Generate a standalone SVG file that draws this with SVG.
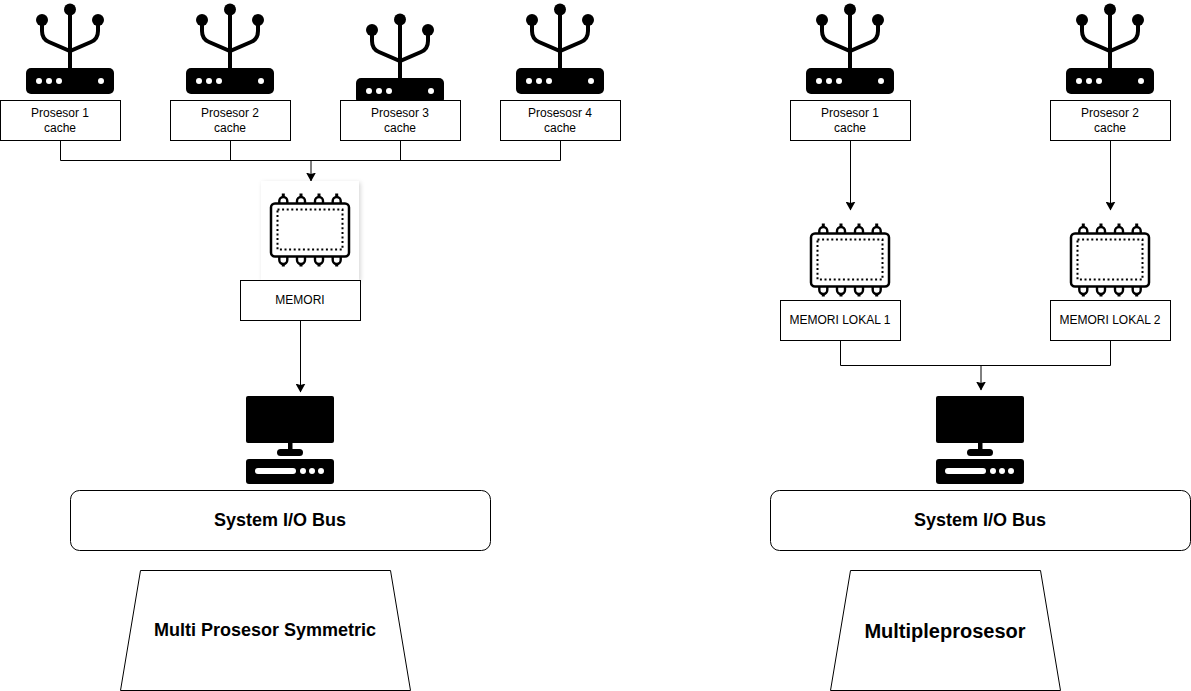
<svg xmlns="http://www.w3.org/2000/svg" xmlns:xlink="http://www.w3.org/1999/xlink" width="1191" height="691" viewBox="0 0 1191 691">
<style>
text{font-family:"Liberation Sans",Arial,sans-serif;text-anchor:middle;fill:#000}
.lbl{font-size:12px}
.box{fill:#fff;stroke:#000;stroke-width:1}
.wire{fill:none;stroke:#000;stroke-width:1}
.ant{fill:none;stroke:#000;stroke-width:4}
.b{font-weight:bold;font-size:18px}
</style>
<defs>
<marker id="arr" viewBox="0 0 9 10" refX="8.500" refY="5" markerWidth="9" markerHeight="10" markerUnits="userSpaceOnUse" orient="auto"><path d="M0 0L9 5L0 10L1.500 5Z" fill="#000"/></marker>
<filter id="sh" x="-10%" y="-10%" width="120%" height="120%"><feDropShadow dx="1.500" dy="1.500" stdDeviation="2" flood-color="#000" flood-opacity="0.16"/></filter>
<g id="router">
<path class="ant" d="M70 9.500V68M42 20V31Q42 39 49 42L70 51L91 42Q98 39 98 31V20"/>
<circle cx="70" cy="9.500" r="6"/><circle cx="42" cy="20" r="6"/><circle cx="98" cy="20" r="6"/>
<rect x="26" y="68" width="88" height="26" rx="5"/>
<g fill="#fff"><circle cx="39" cy="81" r="3"/><circle cx="49" cy="81" r="3"/><circle cx="59" cy="81" r="3"/><circle cx="101" cy="81" r="3"/></g>
</g>
<g id="chip">
<path d="M283.300 193.500v4M301 193.500v4M319 193.500v4M336.700 193.500v4M283.300 262v4.500M301 262v4.500M319 262v4.500M336.700 262v4.500" stroke="#000" stroke-width="3"/>
<g fill="#fff" stroke="#000" stroke-width="2.400">
<path d="M279.300 204v-3a4 4 0 0 1 8 0v3M297 204v-3a4 4 0 0 1 8 0v3M315 204v-3a4 4 0 0 1 8 0v3M332.700 204v-3a4 4 0 0 1 8 0v3"/>
<path d="M279.300 256v4a4 4 0 0 0 8 0v-4M297 256v4a4 4 0 0 0 8 0v-4M315 256v4a4 4 0 0 0 8 0v-4M332.700 256v4a4 4 0 0 0 8 0v-4"/>
</g>
<rect x="271" y="203.500" width="78" height="53" rx="4" fill="#fff" stroke="#000" stroke-width="2.500"/>
<rect x="277.500" y="209.500" width="65" height="40" fill="none" stroke="#000" stroke-width="2" stroke-dasharray="2 2.600"/>
</g>
<g id="pc">
<rect x="246" y="396" width="88" height="47" rx="2"/>
<rect x="288" y="442" width="4.500" height="9"/>
<rect x="277" y="449" width="26" height="7" rx="3.500"/>
<rect x="246" y="459" width="88" height="25" rx="3"/>
<rect x="255" y="468" width="41" height="6" rx="3" fill="#fff"/>
<g fill="#fff"><circle cx="303" cy="471" r="3"/><circle cx="312" cy="471" r="3"/><circle cx="321" cy="471" r="3"/></g>
</g>
</defs>

<g id="connectors">
<path class="wire" d="M60.500 140V160.500H560.500V140M230.500 140V160.500M400.500 140V160.500"/>
<path class="wire" d="M311 160.500V181" marker-end="url(#arr)"/>
<path class="wire" d="M300.500 320V392" marker-end="url(#arr)"/>
<path class="wire" d="M850.500 140V210" marker-end="url(#arr)"/>
<path class="wire" d="M1110.500 140V210" marker-end="url(#arr)"/>
<path class="wire" d="M840.500 340V365.500H1110.500V340"/>
<path class="wire" d="M981 365.500V390" marker-end="url(#arr)"/>
</g>

<g id="r1"><use href="#router"/><rect class="box" x="0.500" y="100.500" width="120" height="40"/><text class="lbl" x="60" y="117">Prosesor 1</text><text class="lbl" x="60" y="132">cache</text></g>
<g id="r2"><use href="#router" x="160"/><rect class="box" x="170.500" y="100.500" width="120" height="40"/><text class="lbl" x="230" y="117">Prosesor 2</text><text class="lbl" x="230" y="132">cache</text></g>
<g id="r3"><use href="#router" x="330" y="10"/><rect class="box" x="340.500" y="100.500" width="120" height="40"/><text class="lbl" x="400" y="117">Prosesor 3</text><text class="lbl" x="400" y="132">cache</text></g>
<g id="r4"><use href="#router" x="490"/><rect class="box" x="500.500" y="100.500" width="120" height="40"/><text class="lbl" x="560" y="117">Prosesosr 4</text><text class="lbl" x="560" y="132">cache</text></g>

<g id="mem"><rect x="261" y="181" width="98" height="99" fill="#fff" filter="url(#sh)"/><use href="#chip"/><rect class="box" x="240.500" y="280.500" width="120" height="40"/><text class="lbl" x="300" y="304">MEMORI</text></g>
<g id="pc1"><use href="#pc"/></g>
<g id="bus1"><rect class="box" x="70.500" y="490.500" width="420" height="60" rx="9"/><text class="b" x="280" y="526">System I/O Bus</text></g>
<g id="title1"><path class="box" d="M140.500 570.500H390.500L410.500 690.500H120.500Z"/><text class="b" x="265" y="636">Multi Prosesor Symmetric</text></g>

<g id="r5"><use href="#router" x="780"/><rect class="box" x="790.500" y="100.500" width="120" height="40"/><text class="lbl" x="850" y="117">Prosesor 1</text><text class="lbl" x="850" y="132">cache</text></g>
<g id="r6"><use href="#router" x="1040"/><rect class="box" x="1050.500" y="100.500" width="120" height="40"/><text class="lbl" x="1110" y="117">Prosesor 2</text><text class="lbl" x="1110" y="132">cache</text></g>
<g id="mem1"><use href="#chip" x="540" y="30"/><rect class="box" x="780.500" y="300.500" width="120" height="40"/><text class="lbl" x="840" y="324">MEMORI LOKAL 1</text></g>
<g id="mem2"><use href="#chip" x="800" y="30"/><rect class="box" x="1050.500" y="300.500" width="120" height="40"/><text class="lbl" x="1110" y="324">MEMORI LOKAL 2</text></g>
<g id="pc2"><use href="#pc" x="690"/></g>
<g id="bus2"><rect class="box" x="770.500" y="490.500" width="420" height="60" rx="9"/><text class="b" x="980" y="526">System I/O Bus</text></g>
<g id="title2"><path class="box" d="M850.500 570.500H1040.500L1060.500 690.500H830.500Z"/><text x="945" y="638" font-size="20" font-weight="bold">Multipleprosesor</text></g>
</svg>
